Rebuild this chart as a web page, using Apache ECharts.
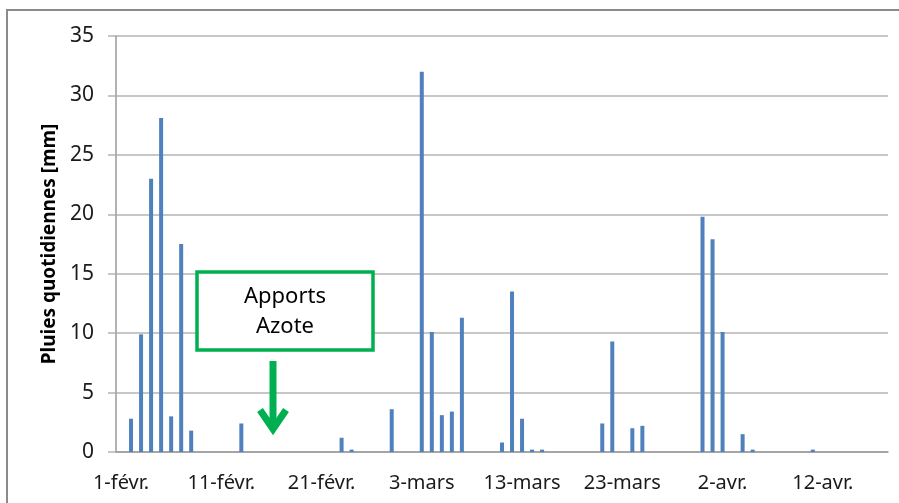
<!DOCTYPE html>
<html>
<head>
<meta charset="utf-8">
<script src="https://cdn.jsdelivr.net/npm/echarts/dist/echarts.min.js"></script>
<style>
  html, body { margin: 0; padding: 0; background: #fff; }
  #chart { width: 899px; height: 503px; }
</style>
</head>
<body>
<div id="chart"></div>
<script>
// mois affichés sur l'axe : [libellé, nombre de jours]
const months = [['févr.', 28], ['mars', 31], ['avr.', 18]];

// pluies quotidiennes [mm], du 1-févr. au 18-avr.
const rain = [
  0, 2.8, 9.9, 23.0, 28.1, 3.0, 17.5, 1.8, 0, 0,
  0, 0, 2.4, 0, 0, 0, 0, 0, 0, 0,
  0, 0, 1.2, 0.2, 0, 0, 0, 3.6, 0, 0,
  32.0, 10.1, 3.1, 3.4, 11.3, 0, 0, 0, 0.8, 13.5,
  2.8, 0.2, 0.2, 0, 0, 0, 0, 0, 2.4, 9.3,
  0, 2.0, 2.2, 0, 0, 0, 0, 0, 19.8, 17.9,
  10.1, 0, 1.5, 0.2, 0, 0, 0, 0, 0, 0.2,
  0, 0, 0, 0, 0, 0, 0
];

const yTicks = [0, 5, 10, 15, 20, 25, 30, 35];
const yTitle = 'Pluies quotidiennes [mm]';
const noteText = 'Apports\nAzote';

let categories = [];
months.forEach(m => {
  for (let d = 1; d <= m[1]; d++) categories.push(d + '-' + m[0]);
});

const font = 'Noto Sans';
const gridColor = '#b4b4b4';
const green = '#00b050';

let chart = echarts.init(document.getElementById('chart'));

let option = {
  animation: false,
  grid: { left: 116, top: 36, width: 772, height: 416 },
  xAxis: {
    type: 'category',
    data: categories,
    boundaryGap: true,
    axisLine: { lineStyle: { color: '#9a9a9a', width: 1.5 } },
    axisTick: { interval: 9, length: 7, lineStyle: { color: '#9a9a9a' } },
    axisLabel: { interval: 9, margin: 21, fontSize: 20, color: '#1a1a1a', fontFamily: font }
  },
  yAxis: {
    type: 'value',
    min: yTicks[0],
    max: yTicks[yTicks.length - 1],
    interval: 5,
    name: yTitle,
    nameLocation: 'middle',
    nameGap: 53,
    nameTextStyle: { fontSize: 19, fontWeight: 'bold', color: '#000', fontFamily: font },
    axisLine: { show: true, lineStyle: { color: '#9a9a9a', width: 1.5 } },
    axisTick: { show: true, length: 8, lineStyle: { color: gridColor, width: 1.5 } },
    axisLabel: { margin: 22, fontSize: 21, color: '#1a1a1a', fontFamily: font },
    splitLine: { lineStyle: { color: gridColor, width: 1.5 } }
  },
  series: [
    {
      type: 'bar',
      data: rain,
      barWidth: 4,
      itemStyle: { color: '#4f81bd' }
    }
  ],
  graphic: [
    // cadre extérieur
    {
      type: 'rect',
      shape: { x: 7, y: 10, width: 910, height: 510 },
      style: { fill: 'none', stroke: '#8a8a8a', lineWidth: 2 },
      silent: true
    },
    // encadré "Apports Azote"
    {
      type: 'rect',
      shape: { x: 197, y: 272, width: 176, height: 78 },
      style: { fill: '#fff', stroke: green, lineWidth: 3.5 },
      z: 10
    },
    {
      type: 'text',
      x: 285, y: 312,
      style: {
        text: noteText,
        align: 'center',
        verticalAlign: 'middle',
        fontSize: 22,
        lineHeight: 30,
        fontFamily: font,
        fill: '#000'
      },
      z: 11
    },
    // flèche
    {
      type: 'line',
      shape: { x1: 273, y1: 361, x2: 273, y2: 428 },
      style: { stroke: green, lineWidth: 7 },
      z: 10
    },
    {
      type: 'polyline',
      shape: { points: [[260, 410], [273, 429], [286, 410]] },
      style: { stroke: green, lineWidth: 7, fill: 'none', lineJoin: 'miter' },
      z: 10
    }
  ]
};

chart.setOption(option);
</script>
</body>
</html>
